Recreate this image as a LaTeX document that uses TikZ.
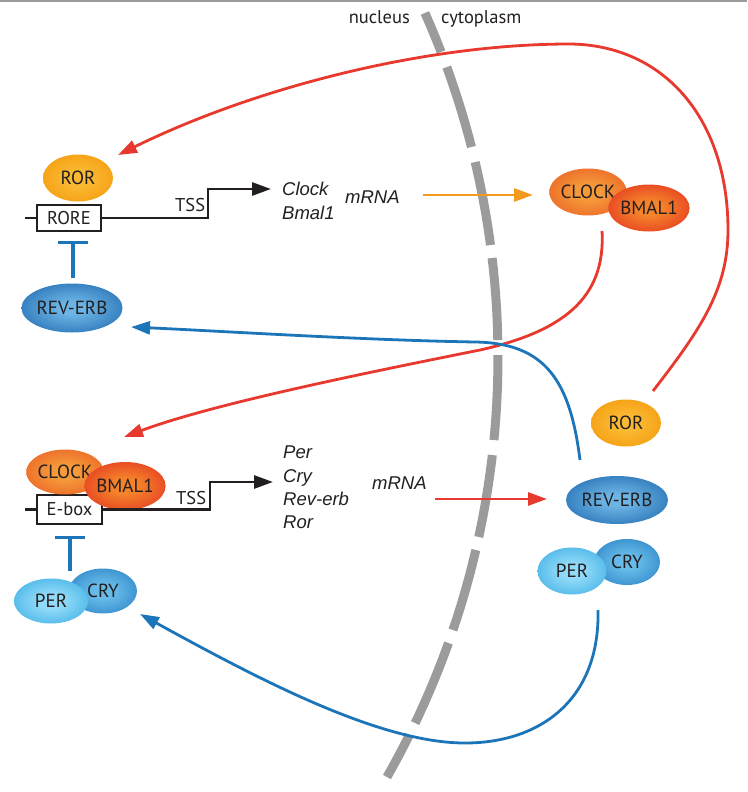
\documentclass[tikz,border=0pt]{standalone}
\usepackage{fontspec}
\setmainfont{PT Sans}
\newfontfamily\arialfont{Liberation Sans}
\usetikzlibrary{arrows.meta,shapes.geometric}
\definecolor{cred}{HTML}{E8392F}
\definecolor{cblue}{HTML}{1C74B9}
\definecolor{corange}{HTML}{F39A1E}
\definecolor{cgray}{HTML}{9B9B9B}
\definecolor{ctext}{HTML}{231F20}
\definecolor{rorin}{HTML}{FAB933}
\definecolor{rorout}{HTML}{F29100}
\definecolor{clockin}{HTML}{F59A3A}
\definecolor{clockout}{HTML}{E8511F}
\definecolor{bmalin}{HTML}{F4832A}
\definecolor{bmalout}{HTML}{E01F1E}
\definecolor{revin}{HTML}{6DB5E5}
\definecolor{revout}{HTML}{125EA8}
\definecolor{perin}{HTML}{92DAF8}
\definecolor{perout}{HTML}{27A5DF}
\definecolor{cryin}{HTML}{67BBE9}
\definecolor{cryout}{HTML}{1C74BC}
\pgfdeclareradialshading{rorsh}{\pgfpointorigin}{color(0bp)=(rorin); color(8bp)=(rorin); color(40bp)=(rorout); color(50bp)=(rorout)}
\pgfdeclareradialshading{clocksh}{\pgfpointorigin}{color(0bp)=(clockin); color(8bp)=(clockin); color(40bp)=(clockout); color(50bp)=(clockout)}
\pgfdeclareradialshading{bmalsh}{\pgfpointorigin}{color(0bp)=(bmalin); color(8bp)=(bmalin); color(40bp)=(bmalout); color(50bp)=(bmalout)}
\pgfdeclareradialshading{revsh}{\pgfpointorigin}{color(0bp)=(revin); color(6bp)=(revin); color(38bp)=(revout); color(50bp)=(revout)}
\pgfdeclareradialshading{persh}{\pgfpointorigin}{color(0bp)=(perin); color(8bp)=(perin); color(40bp)=(perout); color(50bp)=(perout)}
\pgfdeclareradialshading{crysh}{\pgfpointorigin}{color(0bp)=(cryin); color(8bp)=(cryin); color(40bp)=(cryout); color(50bp)=(cryout)}
\tikzset{
  prot/.style={ellipse, inner sep=0pt, text=ctext, font=\fontsize{19}{22}\selectfont, shade},
  rorfill/.style={prot, shading=rorsh},
  clockfill/.style={prot, shading=clocksh},
  bmalfill/.style={prot, shading=bmalsh},
  revfill/.style={prot, shading=revsh},
  perfill/.style={prot, shading=persh},
  cryfill/.style={prot, shading=crysh},
  elembox/.style={draw=ctext, line width=1.2pt, fill=white, inner sep=0pt, text=ctext, font=\fontsize{18.5}{22}\selectfont},
  gene/.style={draw=ctext, line width=2.8pt},
  geneArrow/.style={gene, -{Triangle[length=19pt,width=13pt]}},
  lbl/.style={inner sep=0pt, text=ctext, font=\fontsize{18.5}{22}\selectfont},
  itl/.style={inner sep=0pt, text=ctext, font=\arialfont\itshape\fontsize{18.5}{22}\selectfont},
  redarrow/.style={draw=cred, line width=2.8pt, -{Triangle[length=19pt,width=13pt]}},
  bluearrow/.style={draw=cblue, line width=2.8pt, -{Triangle[length=19pt,width=13pt]}},
  orangearrow/.style={draw=corange, line width=2.8pt, -{Triangle[length=19pt,width=13pt]}},
  inhib/.style={draw=cblue, line width=3.2pt, -{Bar[width=30pt]}},
  membrane/.style={draw=cgray, line width=9pt, line cap=butt}
}
\begin{document}
\begin{tikzpicture}[x=1pt,y=-1pt]
\useasboundingbox (0,0) rectangle (747,792);
% top rule
\draw[cgray, line width=2pt] (0,1) -- (747,1);
% membrane
\foreach \a/\b in {-23.95/-21.10,-20.01/-14.36,-13.31/-7.61,-6.73/-1.17,-0.16/5.59,6.61/12.22,13.12/18.74,19.67/25.53,26.42/29.64}
  \draw[membrane] plot[domain=\a:\b, samples=25, smooth] ({-350.5+848.5*cos(\x)},{357.4+848.5*sin(\x)});
\node[lbl, anchor=base east] (nuc) at (410,24) {nucleus};
\node[lbl, anchor=base west] (cyt) at (441,24) {cytoplasm};

% ---------- top gene ----------
\node[elembox, minimum width=64pt, minimum height=26pt] (rore) at (69,218) {RORE};
\coordinate (g1l) at (25,218);
\coordinate (g1c) at (208,218);
\coordinate (g1u) at (208,189);
\coordinate (g1t) at (271,189);
\draw[gene] (g1l) -- (rore.west);
\draw[geneArrow] (rore.east) -- (g1c) -- (g1u) -- (g1t);
\node[lbl, anchor=base west] (tss1) at (175,211) {TSS};
\node[rorfill, minimum width=70pt, minimum height=47pt] (rorL) at (78,178) {ROR};
\node[revfill, minimum width=101pt, minimum height=49pt] (revL) at (72,308) {REV-ERB};
\coordinate (t1s) at (73,278);
\coordinate (t1e) at (73,241);
\draw[inhib] (t1s) -- (t1e);
\node[itl, anchor=base west] (clk) at (282,195) {Clock};
\node[itl, anchor=base west] (bml) at (282,219) {Bmal1};
\node[itl, anchor=base west] (mrna1) at (345,203) {mRNA};
\coordinate (o1s) at (423,195);
\coordinate (o1e) at (533,195);
\draw[orangearrow] (o1s) -- (o1e);

% ---------- right top complex ----------
\node[clockfill, minimum width=70pt, minimum height=47pt] (clockR) at (588,192) {CLOCK};
\node[bmalfill, minimum width=70pt, minimum height=47pt] (bmalR) at (649,208) {BMAL1};

% ---------- bottom gene ----------
\node[elembox, minimum width=65pt, minimum height=29pt] (ebox) at (69.5,509.5) {E-box};
\coordinate (g2l) at (25,509.5);
\coordinate (g2c) at (210,509.5);
\coordinate (g2u) at (210,482);
\coordinate (g2t) at (273,482);
\draw[gene] (g2l) -- (ebox.west);
\node[clockfill, minimum width=72pt, minimum height=45pt] (clockL) at (65,472) {CLOCK};
\node[bmalfill, minimum width=70pt, minimum height=48pt] (bmalL) at (125,486) {BMAL1};
\draw[geneArrow] (ebox.east) -- (g2c) -- (g2u) -- (g2t);
\node[lbl, anchor=base west] (tss2) at (176,504) {TSS};
\node[cryfill, minimum width=68pt, minimum height=45pt] (cryL) at (103,591) {CRY};
\node[perfill, minimum width=74pt, minimum height=45pt] (perL) at (51,601) {PER};
\coordinate (t2s) at (70,571);
\coordinate (t2e) at (70,536);
\draw[inhib] (t2s) -- (t2e);
\node[itl, anchor=base west] (per) at (283,458) {Per};
\node[itl, anchor=base west] (cry) at (283,482) {Cry};
\node[itl, anchor=base west] (rev) at (283,505) {Rev-erb};
\node[itl, anchor=base west] (ror) at (283,528) {Ror};
\node[itl, anchor=base west] (mrna2) at (372,489) {mRNA};
\coordinate (o2s) at (435,499);
\coordinate (o2e) at (547,499);
\draw[redarrow] (o2s) -- (o2e);

% ---------- right bottom ----------
\node[rorfill, minimum width=70pt, minimum height=47pt] (rorR) at (626,423) {ROR};
\node[revfill, minimum width=102pt, minimum height=48pt] (revR) at (617,500) {REV-ERB};
\node[cryfill, minimum width=66pt, minimum height=46pt] (cryR) at (627,562) {CRY};
\node[perfill, minimum width=69pt, minimum height=47pt] (perR) at (572,571) {PER};

% ---------- long connectors ----------
\coordinate (r1s) at (653,391);
\coordinate (r1e) at (118,155);
\draw[redarrow] (r1s) .. controls (700,330) and (728,290) .. (728,230)
  .. controls (728,120) and (665,45) .. (570,44)
  .. controls (420,44) and (250,90) .. (r1e);
\coordinate (r2s) at (602,231);
\coordinate (r2e) at (124,437);
\draw[redarrow] (r2s) .. controls (606,300) and (560,332) .. (480,350)
  .. controls (350,376) and (210,405) .. (r2e);
\coordinate (b1s) at (580,460);
\coordinate (b1e) at (131,327);
\draw[bluearrow] (b1s) .. controls (570,380) and (545,343) .. (475,342)
  .. controls (360,340) and (220,331) .. (b1e);
\coordinate (b2s) at (598,610);
\coordinate (b2e) at (140,614);
\draw[bluearrow] (b2s) .. controls (600,700) and (540,743) .. (465,743)
  .. controls (380,743) and (260,680) .. (b2e);
\end{tikzpicture}
\end{document}
